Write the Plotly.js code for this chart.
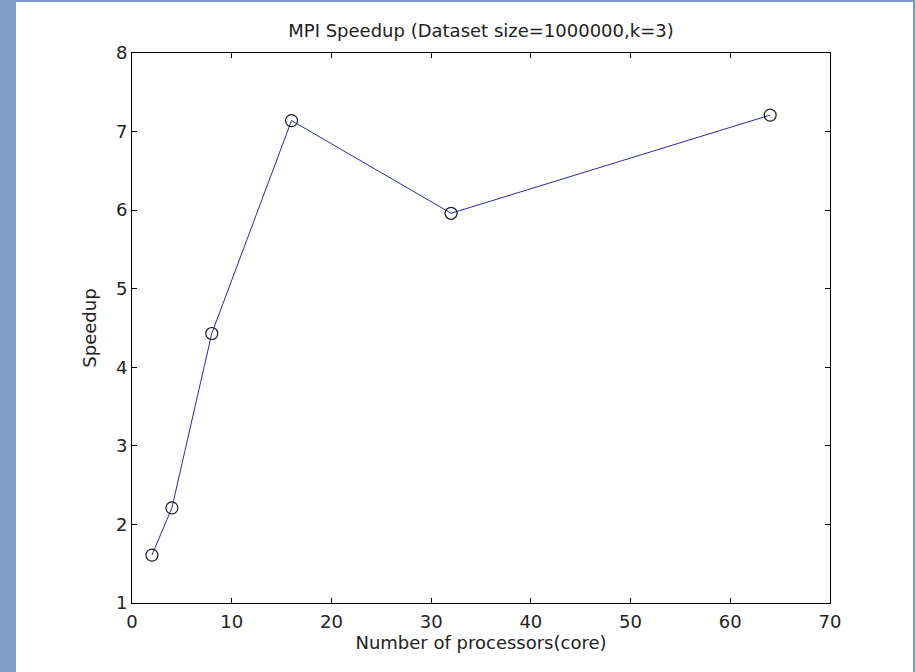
<!DOCTYPE html>
<html>
<head>
<meta charset="utf-8">
<script src="https://cdn.plot.ly/plotly-3.0.1.min.js"></script>
<style>
html,body{margin:0;padding:0;background:#fff;}
#wrap{position:relative;width:915px;height:672px;overflow:hidden;}
#chart{position:absolute;left:0;top:0;width:915px;height:672px;}
.band{position:absolute;background:#7f9cc6;}
</style>
</head>
<body>
<div id="wrap">
<div id="chart"></div>
<div class="band" style="left:0;top:0;width:16px;height:672px;"></div>
<div class="band" style="left:0;top:0;width:915px;height:2px;"></div>
<div class="band" style="left:913px;top:0;width:2px;height:672px;"></div>
</div>
<script>
const processors = [2, 4, 8, 16, 32, 64];
const speedup = [1.61, 2.21, 4.43, 7.14, 5.96, 7.21];
const xTicks = [0, 10, 20, 30, 40, 50, 60, 70];
const yTicks = [1, 2, 3, 4, 5, 6, 7, 8];

const font = {family: 'DejaVu Sans, sans-serif', size: 18, color: '#222'};

Plotly.newPlot('chart', [{
  x: processors, y: speedup,
  type: 'scatter', mode: 'lines+markers',
  line: {color: '#2a2aa0', width: 1},
  marker: {symbol: 'circle-open', size: 12, color: '#1a1a1a', line: {width: 1.2, color: '#1a1a1a'}}
}], {
  width: 915, height: 672,
  margin: {l: 132, r: 85, t: 53, b: 69},
  paper_bgcolor: '#fff', plot_bgcolor: '#fff',
  showlegend: false,
  font: font,
  title: {text: 'MPI Speedup (Dataset size=1000000,k=3)', x: 0.5, xref: 'paper', y: 1, yref: 'container', yanchor: 'top', pad: {t: 24}, font: font},
  xaxis: {
    range: [0, 70], tickvals: xTicks, ticktext: xTicks.map(String),
    ticks: 'inside', ticklen: 5, tickcolor: '#000', mirror: 'ticks',
    showline: true, linecolor: '#000', linewidth: 1,
    showgrid: false, zeroline: false,
    ticklabelstandoff: 2,
    title: {text: 'Number of processors(core)', standoff: 3, font: font}
  },
  yaxis: {
    range: [1, 8], tickvals: yTicks, ticktext: yTicks.map(String),
    ticks: 'inside', ticklen: 5, tickcolor: '#000', mirror: 'ticks',
    showline: true, linecolor: '#000', linewidth: 1,
    showgrid: false, zeroline: false,
    title: {text: 'Speedup', standoff: 14, font: font}
  }
}, {staticPlot: true, displayModeBar: false});
</script>
</body>
</html>
